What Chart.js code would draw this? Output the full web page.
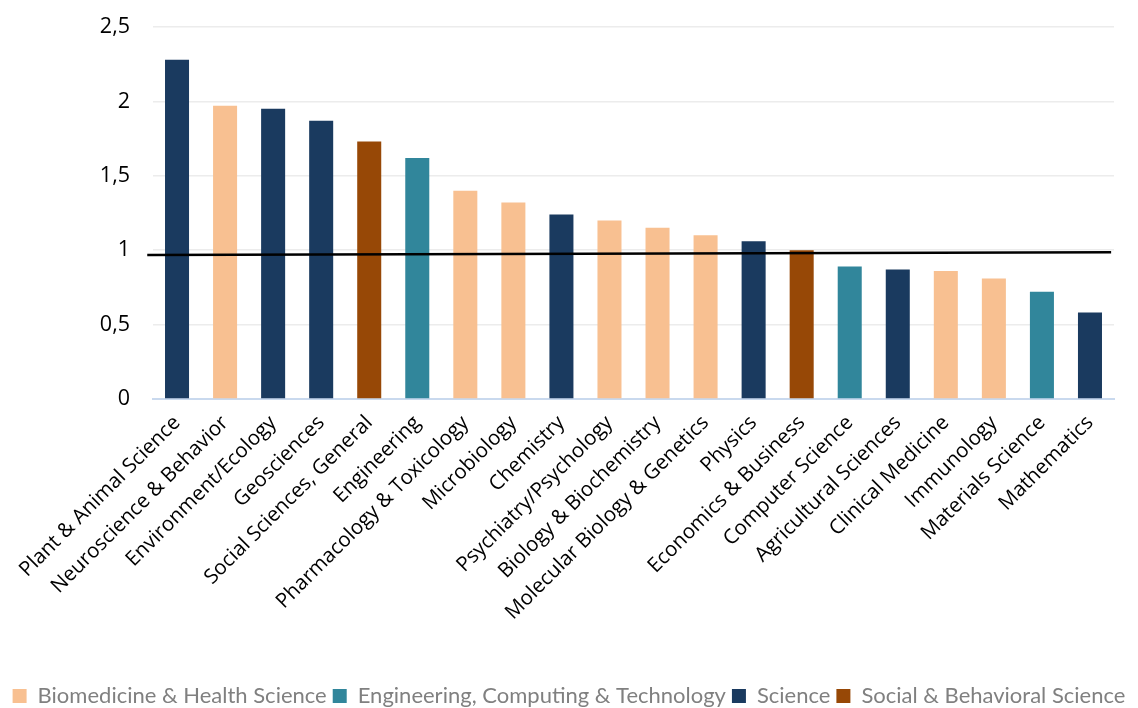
<!DOCTYPE html>
<html>
<head>
<meta charset="utf-8">
<script src="https://cdn.jsdelivr.net/npm/chart.js@4"></script>
<style>
  html, body { margin: 0; padding: 0; background: #ffffff; }
  #wrap { width: 1138px; height: 708px; position: relative; }
</style>
</head>
<body>
<div id="wrap"><canvas id="c"></canvas></div>
<script>
const categories = [
  "Plant & Animal Science", "Neuroscience & Behavior", "Environment/Ecology", "Geosciences",
  "Social Sciences, General", "Engineering", "Pharmacology & Toxicology", "Microbiology",
  "Chemistry", "Psychiatry/Psychology", "Biology & Biochemistry", "Molecular Biology & Genetics",
  "Physics", "Economics & Business", "Computer Science", "Agricultural Sciences",
  "Clinical Medicine", "Immunology", "Materials Science", "Mathematics"
];
const values = [2.28, 1.97, 1.95, 1.87, 1.73, 1.62, 1.40, 1.32, 1.24, 1.20, 1.15, 1.10, 1.06, 1.00, 0.89, 0.87, 0.86, 0.81, 0.72, 0.58];
const fields = [
  "Science", "Biomedicine & Health Science", "Science", "Science",
  "Social & Behavioral Science", "Engineering, Computing & Technology", "Biomedicine & Health Science", "Biomedicine & Health Science",
  "Science", "Biomedicine & Health Science", "Biomedicine & Health Science", "Biomedicine & Health Science",
  "Science", "Social & Behavioral Science", "Engineering, Computing & Technology", "Science",
  "Biomedicine & Health Science", "Biomedicine & Health Science", "Engineering, Computing & Technology", "Science"
];
const groups = ["Biomedicine & Health Science", "Engineering, Computing & Technology", "Science", "Social & Behavioral Science"];
const groupColors = ["#f8c091", "#31869b", "#1a3a5f", "#974806"];
// reference line (average = 1), as drawn in the source: slightly tilted
const refLineX = [-0.006, 0.997];
const refLineY = [0.968, 0.986];
const yTicks = [0, 0.5, 1, 1.5, 2, 2.5];

const datasets = groups.map((g, gi) => ({
  type: 'bar',
  label: g,
  data: values.map((v, i) => fields[i] === g ? v : null),
  backgroundColor: groupColors[gi],
  borderWidth: 0,
  barPercentage: 0.5,
  categoryPercentage: 1.0,
  grouped: false,
  order: 2
}));
datasets.push({
  type: 'line',
  label: '__ref',
  xAxisID: 'x2',
  data: refLineX.map((x, i) => ({ x: x, y: refLineY[i] })),
  borderColor: '#000000',
  borderWidth: 2.5,
  pointRadius: 0,
  fill: false,
  clip: false,
  order: 0
});

const legendShift = {
  id: 'legendShift',
  afterLayout(chart) {
    if (chart.legend) { chart.legend.top += 9; chart.legend.bottom += 9; }
  }
};

new Chart(document.getElementById('c'), {
  data: { labels: categories, datasets: datasets },
  plugins: [legendShift],
  options: {
    responsive: true,
    maintainAspectRatio: false,
    animation: false,
    layout: { padding: { left: 0, right: 0, top: 0, bottom: 0 } },
    plugins: {
      tooltip: { enabled: false },
      legend: {
        position: 'bottom',
        title: { display: true, text: ' ', font: { size: 1 }, padding: { top: 0, bottom: 40 } },
        labels: {
          filter: item => item.text !== '__ref',
          font: { family: 'Lato', size: 22 },
          color: '#808080',
          boxWidth: 14,
          boxHeight: 14,
          padding: 6
        }
      }
    },
    scales: {
      x: {
        type: 'category',
        offset: true,
        grid: { display: false },
        border: { display: true, color: '#c9d9ee', width: 2 },
        ticks: {
          minRotation: 45, maxRotation: 45,
          autoSkip: false,
          color: '#000000',
          padding: 4,
          font: { family: 'Open Sans', size: 20.5 }
        }
      },
      x2: {
        type: 'linear',
        display: false,
        min: 0, max: 1
      },
      y: {
        min: 0, max: 2.5,
        afterBuildTicks: axis => { axis.ticks = yTicks.map(v => ({ value: v })); },
        afterFit: axis => { axis.width = 153; axis.paddingTop = 27; },
        grid: { color: '#ececec', lineWidth: 1.5, drawTicks: false },
        border: { display: false },
        ticks: {
          padding: 23,
          color: '#000000',
          font: { family: 'Open Sans', size: 21.5 },
          callback: v => String(v).replace('.', ',')
        }
      },
      yR: {
        position: 'right',
        display: true,
        min: 0, max: 2.5,
        grid: { display: false },
        border: { display: false },
        ticks: { display: false },
        afterFit: axis => { axis.width = 24; axis.paddingTop = 27; }
      }
    }
  }
});
</script>
</body>
</html>
